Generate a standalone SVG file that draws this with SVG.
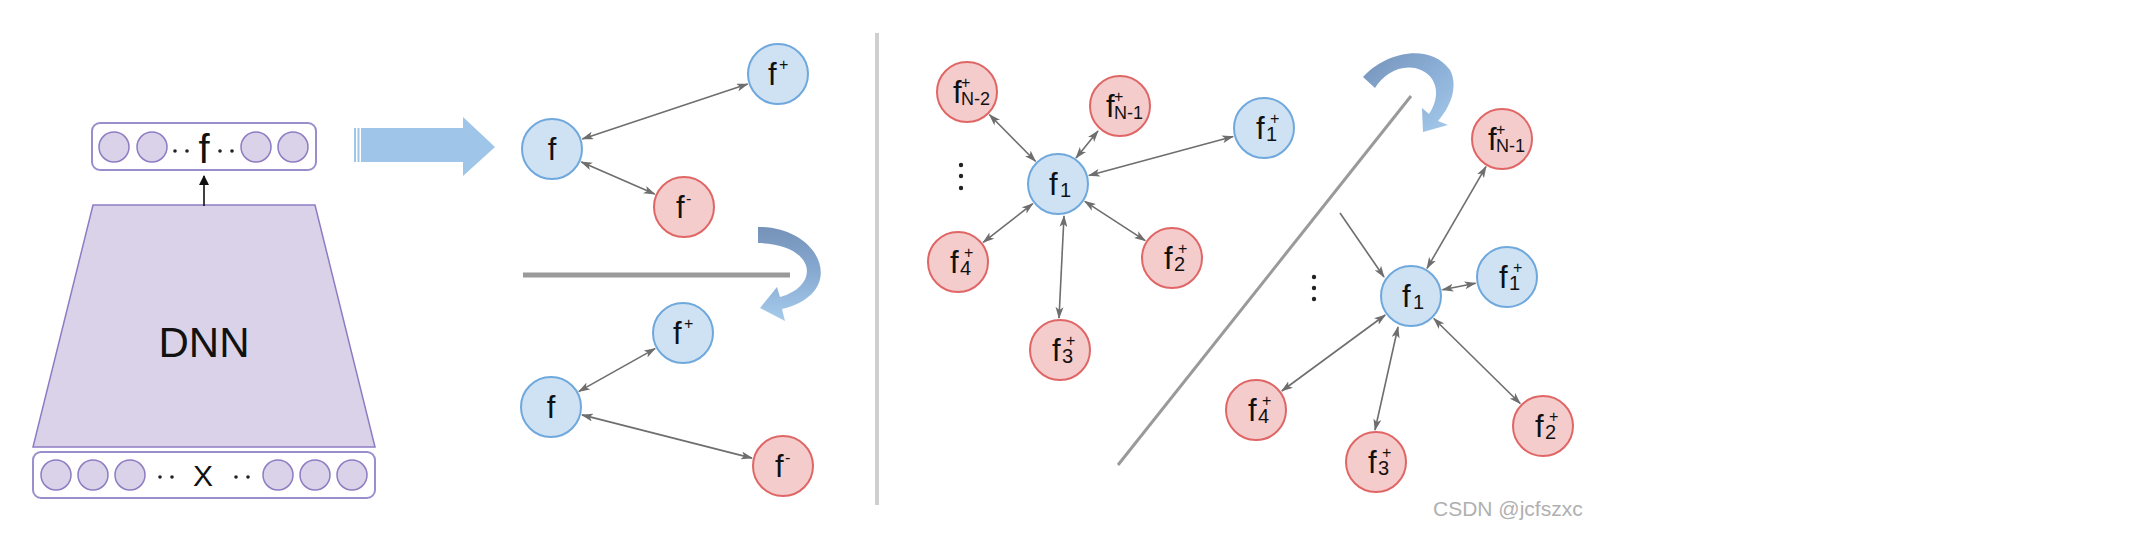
<svg xmlns="http://www.w3.org/2000/svg" width="2133" height="549" viewBox="0 0 2133 549">
<style>
.pur{fill:#d9d2e9;stroke:#8e7cc3;stroke-width:1.5}
.box{fill:#ffffff;stroke:#9a8ecd;stroke-width:2}
.bn{fill:#cfe2f3;stroke:#6fa8dc;stroke-width:2}
.rn{fill:#f4cccc;stroke:#e06666;stroke-width:2}
text{font-family:"Liberation Sans",Arial,sans-serif;fill:#111}
.f{font-size:31px}
.sub{font-size:20px}
.subn{font-size:18px}
.sup{font-size:16px}
.edge{stroke:#6e6e6e;stroke-width:1.6;fill:none;marker-start:url(#ah);marker-end:url(#ah)}
.one{stroke:#6e6e6e;stroke-width:1.6;fill:none;marker-end:url(#ah)}
.dot{fill:#222}
</style>
<defs>
<marker id="ah" viewBox="0 0 12 8" refX="11" refY="4" markerWidth="12" markerHeight="8" markerUnits="userSpaceOnUse" orient="auto-start-reverse">
<path d="M0,0 L12,4 L0,8 L3,4 Z" fill="#6e6e6e"/>
</marker>
<marker id="bk" viewBox="0 0 10 10" refX="9" refY="5" markerWidth="10" markerHeight="10" markerUnits="userSpaceOnUse" orient="auto">
<path d="M0,0 L10,5 L0,10 Z" fill="#111"/>
</marker>
<linearGradient id="g1" x1="0" y1="0" x2="0" y2="1">
<stop offset="0" stop-color="#7692b8"/>
<stop offset="0.45" stop-color="#86a8d0"/>
<stop offset="1" stop-color="#a6cbeb"/>
</linearGradient>
<linearGradient id="g2" x1="0" y1="0" x2="1" y2="1">
<stop offset="0" stop-color="#7692b8"/>
<stop offset="0.5" stop-color="#8aaed6"/>
<stop offset="1" stop-color="#a6cbeb"/>
</linearGradient>
</defs>
<rect width="2133" height="549" fill="#ffffff"/>

<g id="dnn">
<polygon class="pur" points="93,205 315,205 375,447 33,447"/>
<text x="204" y="357" text-anchor="middle" style="font-size:42px">DNN</text>
</g>

<g id="output-layer">
<rect class="box" x="92" y="123" width="224" height="47" rx="8"/>
<circle class="pur" cx="114" cy="147" r="15"/>
<circle class="pur" cx="152" cy="147" r="15"/>
<circle class="pur" cx="256" cy="147" r="15"/>
<circle class="pur" cx="293" cy="147" r="15"/>
<circle class="dot" cx="175" cy="151" r="1.8"/>
<circle class="dot" cx="187" cy="151" r="1.8"/>
<circle class="dot" cx="220" cy="151" r="1.8"/>
<circle class="dot" cx="232" cy="151" r="1.8"/>
<text x="204" y="163" text-anchor="middle" style="font-size:40px">f</text>
</g>

<g id="input-layer">
<rect class="box" x="33" y="452" width="342" height="46" rx="8"/>
<circle class="pur" cx="56" cy="475" r="15"/>
<circle class="pur" cx="93" cy="475" r="15"/>
<circle class="pur" cx="130" cy="475" r="15"/>
<circle class="pur" cx="278" cy="475" r="15"/>
<circle class="pur" cx="315" cy="475" r="15"/>
<circle class="pur" cx="352" cy="475" r="15"/>
<circle class="dot" cx="160" cy="477" r="1.8"/>
<circle class="dot" cx="172" cy="477" r="1.8"/>
<circle class="dot" cx="236" cy="477" r="1.8"/>
<circle class="dot" cx="248" cy="477" r="1.8"/>
<text x="203" y="486" text-anchor="middle" style="font-size:30px">X</text>
</g>

<g id="big-arrow" fill="#9fc5e8">
<rect x="354" y="128" width="2" height="34"/>
<rect x="357.5" y="128" width="2" height="34"/>
<path d="M361,128 H463 V117 L495,147 L463,176 V162 H361 Z"/>
</g>

<g id="separators">
<line x1="523" y1="275" x2="790" y2="275" stroke="#9a9a9a" stroke-width="5"/>
<line x1="877" y1="33" x2="877" y2="505" stroke="#cfcfcf" stroke-width="4"/>
<line x1="1411" y1="96" x2="1118" y2="465" stroke="#9a9a9a" stroke-width="3"/>
</g>

<g id="curved-arrows">
<path fill="url(#g1)" d="M758,227 C820,226 850,292 782,309 L785,321 L760,308 L777,287 L780,297 C822,285 815,244 758,243 Z"/>
<path fill="url(#g2)" d="M1363,77 C1385,52 1430,42 1450,70 C1458,85 1452,105 1438,121 L1448,125 L1423,132 L1422,108 L1429,114 C1442,95 1437,73 1415,68 C1398,65 1383,75 1375,88 Z"/>
</g>

<g id="connectors">
<line x1="204" y1="206" x2="204" y2="176" stroke="#111" stroke-width="1.6" marker-end="url(#bk)"/>
<line class="edge" x1="582.4" y1="138.9" x2="747.6" y2="84.1"/>
<line class="edge" x1="581.3" y1="161.9" x2="654.7" y2="194.1"/>
<line class="edge" x1="578.9" y1="391.4" x2="655.1" y2="348.6"/>
<line class="edge" x1="582" y1="414.9" x2="752" y2="458.1"/>
<line class="edge" x1="1035.5" y1="161.2" x2="989.5" y2="114.8"/>
<line class="edge" x1="1076" y1="158" x2="1098" y2="131"/>
<line class="edge" x1="1088.9" y1="175.6" x2="1233.1" y2="136.4"/>
<line class="edge" x1="1032.8" y1="203.7" x2="983.2" y2="242.3"/>
<line class="edge" x1="1064" y1="216" x2="1059" y2="318"/>
<line class="edge" x1="1084.8" y1="201.4" x2="1145.2" y2="240.6"/>
<line class="edge" x1="1427" y1="268.3" x2="1486" y2="166.7"/>
<line class="edge" x1="1442.4" y1="289.8" x2="1475.6" y2="283.2"/>
<line class="edge" x1="1385.2" y1="315" x2="1281.8" y2="391"/>
<line class="edge" x1="1398" y1="327" x2="1375" y2="430"/>
<line class="edge" x1="1433.8" y1="318.5" x2="1520.2" y2="403.5"/>
<line class="one" x1="1340" y1="213" x2="1384" y2="277"/>
</g>

<g id="n-f-a"><circle class="bn" cx="552" cy="149" r="30"/><text class="f" x="552" y="160" text-anchor="middle">f</text></g>
<g id="n-fp-a"><circle class="bn" cx="778" cy="74" r="30"/><text class="f" x="768" y="85">f</text><text class="sup" x="779" y="70">+</text></g>
<g id="n-fm-a"><circle class="rn" cx="684" cy="207" r="30"/><text class="f" x="676" y="218">f</text><text class="sup" x="686" y="204">-</text></g>

<g id="n-f-b"><circle class="bn" cx="551" cy="407" r="30"/><text class="f" x="551" y="418" text-anchor="middle">f</text></g>
<g id="n-fp-b"><circle class="bn" cx="683" cy="333" r="30"/><text class="f" x="673" y="344">f</text><text class="sup" x="684" y="329">+</text></g>
<g id="n-fm-b"><circle class="rn" cx="783" cy="466" r="30"/><text class="f" x="775" y="477">f</text><text class="sup" x="785" y="463">-</text></g>

<g id="l-fn2"><circle class="rn" cx="967" cy="92" r="30"/><text class="f" x="953" y="103">f</text><text class="sup" x="961" y="88">+</text><text class="subn" x="961" y="105">N-2</text></g>
<g id="l-fn1"><circle class="rn" cx="1120" cy="106" r="30"/><text class="f" x="1106" y="117">f</text><text class="sup" x="1114" y="102">+</text><text class="subn" x="1114" y="119">N-1</text></g>
<g id="l-f1p"><circle class="bn" cx="1264" cy="128" r="30"/><text class="f" x="1256" y="139">f</text><text class="sup" x="1270" y="124">+</text><text class="sub" x="1266" y="141">1</text></g>
<g id="l-f1"><circle class="bn" cx="1058" cy="184" r="30"/><text class="f" x="1049" y="195">f</text><text class="sub" x="1060" y="197">1</text></g>
<g id="l-f4"><circle class="rn" cx="958" cy="262" r="30"/><text class="f" x="950" y="273">f</text><text class="sup" x="964" y="258">+</text><text class="sub" x="960" y="275">4</text></g>
<g id="l-f2"><circle class="rn" cx="1172" cy="258" r="30"/><text class="f" x="1164" y="269">f</text><text class="sup" x="1178" y="254">+</text><text class="sub" x="1174" y="271">2</text></g>
<g id="l-f3"><circle class="rn" cx="1060" cy="350" r="30"/><text class="f" x="1052" y="361">f</text><text class="sup" x="1066" y="346">+</text><text class="sub" x="1062" y="363">3</text></g>
<g id="l-dots"><circle class="dot" cx="961" cy="165" r="2.2"/><circle class="dot" cx="961" cy="176" r="2.2"/><circle class="dot" cx="961" cy="188" r="2.2"/></g>

<g id="r-fn1"><circle class="rn" cx="1502" cy="139" r="30"/><text class="f" x="1488" y="150">f</text><text class="sup" x="1496" y="135">+</text><text class="subn" x="1496" y="152">N-1</text></g>
<g id="r-f1"><circle class="bn" cx="1411" cy="296" r="30"/><text class="f" x="1402" y="307">f</text><text class="sub" x="1413" y="309">1</text></g>
<g id="r-f1p"><circle class="bn" cx="1507" cy="277" r="30"/><text class="f" x="1499" y="288">f</text><text class="sup" x="1513" y="273">+</text><text class="sub" x="1509" y="290">1</text></g>
<g id="r-f4"><circle class="rn" cx="1256" cy="410" r="30"/><text class="f" x="1248" y="421">f</text><text class="sup" x="1262" y="406">+</text><text class="sub" x="1258" y="423">4</text></g>
<g id="r-f3"><circle class="rn" cx="1376" cy="462" r="30"/><text class="f" x="1368" y="473">f</text><text class="sup" x="1382" y="458">+</text><text class="sub" x="1378" y="475">3</text></g>
<g id="r-f2"><circle class="rn" cx="1543" cy="426" r="30"/><text class="f" x="1535" y="437">f</text><text class="sup" x="1549" y="422">+</text><text class="sub" x="1545" y="439">2</text></g>
<g id="r-dots"><circle class="dot" cx="1314" cy="277" r="2.2"/><circle class="dot" cx="1314" cy="288" r="2.2"/><circle class="dot" cx="1314" cy="299" r="2.2"/></g>

<text x="1433" y="516" style="font-size:21px;fill:#b0b0b0">CSDN @jcfszxc</text>
</svg>
